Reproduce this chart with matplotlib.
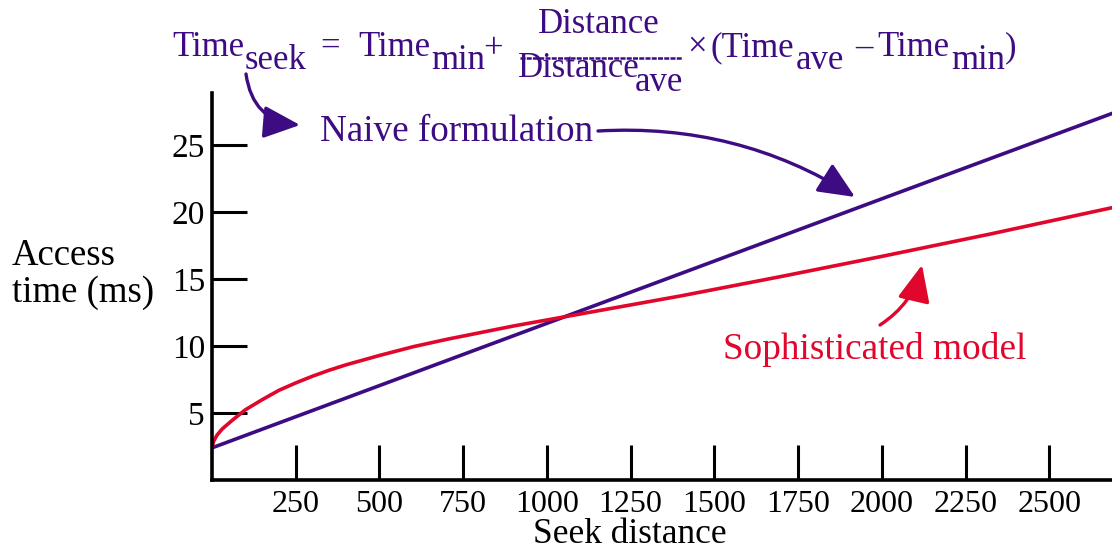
import matplotlib
matplotlib.use("Agg")
import matplotlib.pyplot as plt
from matplotlib.lines import Line2D

# ---- data ----
naive_dist = [0, 1000, 2000, 2690]
naive_ms = [2.4, 11.7, 21.0, 27.4]

soph_dist = [0, 5, 15, 30, 60, 100, 150, 200, 250, 300, 350, 400, 500, 600, 700, 800,
             900, 1000, 1100, 1200, 1400, 1700, 2000, 2320, 2690]
soph_ms = [2.4, 2.9, 3.35, 3.8, 4.45, 5.25, 6.0, 6.7, 7.25, 7.75, 8.2, 8.6, 9.3, 9.95, 10.5, 11.0,
           11.5, 11.95, 12.4, 12.85, 13.75, 15.2, 16.7, 18.35, 20.35]

x_ticks = [250, 500, 750, 1000, 1250, 1500, 1750, 2000, 2250, 2500]
y_ticks = [5, 10, 15, 20, 25]

PURPLE = "#3D0C83"
RED = "#E0062C"
FONT = "Liberation Serif"
plt.rcParams["font.family"] = FONT

W, H = 1112, 550
fig = plt.figure(figsize=(W / 100, H / 100), dpi=100)
ax = fig.add_axes([212 / W, 70 / H, 900 / W, 387 / H])
ax.set_xlim(0, 2687)
ax.set_ylim(0, 28.9)

ax.plot(naive_dist, naive_ms, color=PURPLE, lw=2.6, solid_capstyle="butt")
ax.plot(soph_dist, soph_ms, color=RED, lw=2.6, solid_capstyle="butt", solid_joinstyle="round")

for s in ["top", "right"]:
    ax.spines[s].set_visible(False)
for s in ["left", "bottom"]:
    ax.spines[s].set_linewidth(2.6)
    ax.spines[s].set_color("black")

ax.set_xticks(x_ticks)
ax.set_xticklabels([str(v) for v in x_ticks])
ax.set_yticks(y_ticks)
ax.set_yticklabels([str(v) for v in y_ticks])
ax.tick_params(axis="both", direction="in", length=25, width=2.2, color="black")
ax.tick_params(axis="x", labelsize=23, pad=7)
ax.tick_params(axis="y", labelsize=24, pad=5)

def T(x, y, s, size=25, color=PURPLE, ha="left", va="baseline"):
    fig.text(x / W, 1 - y / H, s, fontsize=size, color=color, ha=ha, va=va, family=FONT)

# axis labels
T(630, 543, "Seek distance", size=25.5, color="black", ha="center")
T(12, 265, "Access", size=26.5, color="black")
T(12, 302, "time (ms)", size=26.5, color="black")

# formula
T(172, 56, "Time")
T(245, 69, "seek")
T(330, 56, "=", ha="center")
T(358, 56, "Time")
T(431, 69, "min")
T(493, 58, "+", ha="center")
T(599, 33, "Distance", ha="center")
T(518, 77, "Distance")
T(635, 91, "ave")
fig.add_artist(Line2D([520 / W, 682 / W], [1 - 58 / H, 1 - 58 / H], color=PURPLE, lw=1.8,
                      linestyle=(0, (2, 0.5))))
T(697, 56, "\u00d7", ha="center")
T(711, 56, "(Time")
T(796, 69, "ave")
T(864, 56, "\u2013", ha="center")
T(877, 56, "Time")
T(951, 69, "min")
T(1005, 56, ")")

# annotations
T(320, 141, "Naive formulation", size=26.7, color=PURPLE)
T(723, 359, "Sophisticated model", size=26.8, color=RED)

def arrow(p0, p1, rad, color):
    fig.add_artist(matplotlib.patches.FancyArrowPatch(
        (p0[0], H - p0[1]), (p1[0], H - p1[1]), transform=None,
        arrowstyle="-|>,head_length=0.9,head_width=0.4", mutation_scale=25,
        connectionstyle=f"arc3,rad={rad}", color=color, lw=2.4,
        shrinkA=0, shrinkB=0))

arrow((246, 74), (300, 125), 0.4, PURPLE)
arrow((598, 131), (855, 197), -0.16, PURPLE)
arrow((880, 325), (922, 265), 0.2, RED)

fig.savefig("out.png", dpi=100)
